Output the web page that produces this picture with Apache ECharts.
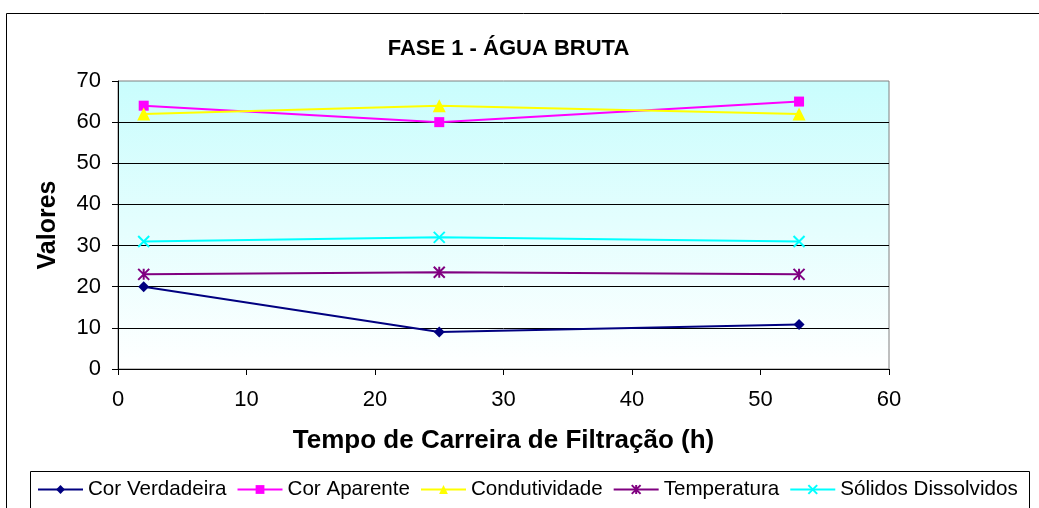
<!DOCTYPE html>
<html>
<head>
<meta charset="utf-8">
<script src="https://cdn.jsdelivr.net/npm/echarts@6/dist/echarts.min.js"></script>
<style>
  html, body { margin: 0; padding: 0; background: #fff; }
  #chart { width: 1039px; height: 508px; }
</style>
</head>
<body>
<div id="chart"></div>
<script>
// dados
var tempo = [2, 25, 53];
var corVerdadeira = [20, 9, 10.8];
var corAparente = [64, 60, 65];
var condutividade = [62, 64, 62];
var temperatura = [23, 23.5, 23];
var solidos = [31, 32, 31];
var nomes = ['Cor Verdadeira', 'Cor Aparente', 'Condutividade', 'Temperatura', 'Sólidos Dissolvidos'];

var FONT = 'Arial, "Liberation Sans", sans-serif';

function pares(valores) {
    return tempo.map(function (t, i) { return [t, valores[i]]; });
}

function serie(nome, valores, cor, simbolo, tamanho, traco) {
    return {
        name: nome,
        type: 'line',
        data: pares(valores),
        symbol: simbolo,
        symbolSize: tamanho,
        showAllSymbol: true,
        lineStyle: { color: cor, width: 2 },
        itemStyle: traco ? { color: cor, borderColor: cor, borderWidth: 2 } : { color: cor, borderWidth: 0 },
        emphasis: { disabled: true },
        animation: false,
        z: 3
    };
}

var chart = echarts.init(document.getElementById('chart'));
chart.setOption({
    animation: false,
    title: {
        text: 'FASE 1 - ÁGUA BRUTA',
        left: 503.5,
        textAlign: 'center',
        top: 33,
        textStyle: { fontFamily: FONT, fontSize: 22, fontWeight: 'bold', color: '#000' }
    },
    graphic: [
        {
            type: 'rect',
            shape: { x: 6.5, y: 13.5, width: 1040, height: 520 },
            style: { fill: 'none', stroke: '#000', lineWidth: 1 },
            silent: true, z: -10
        },
        {
            type: 'rect',
            shape: { x: 30.5, y: 471.5, width: 999, height: 60 },
            style: { fill: '#fff', stroke: '#000', lineWidth: 1 },
            silent: true, z: -5
        }
    ],
    legend: {
        data: nomes,
        left: 37,
        top: 479,
        itemWidth: 45,
        itemHeight: 11,
        itemGap: 10,
        padding: 0,
        textStyle: { fontFamily: FONT, fontSize: 20.6, color: '#000' }
    },
    grid: {
        left: 118,
        top: 81,
        width: 771,
        height: 288,
        show: true,
        borderColor: '#808080',
        borderWidth: 1,
        backgroundColor: {
            type: 'linear', x: 0, y: 0, x2: 0, y2: 1,
            colorStops: [{ offset: 0, color: '#c9fdfd' }, { offset: 1, color: '#ffffff' }]
        }
    },
    xAxis: {
        type: 'value',
        min: 0,
        max: 60,
        interval: 10,
        name: 'Tempo de Carreira de Filtração (h)',
        nameLocation: 'middle',
        nameGap: 59,
        nameTextStyle: { fontFamily: FONT, fontSize: 26, fontWeight: 'bold', color: '#000' },
        axisLine: { show: true, lineStyle: { color: '#000', width: 1 } },
        axisTick: { show: true, length: 6, lineStyle: { color: '#000' } },
        axisLabel: { margin: 20, fontFamily: FONT, fontSize: 22, color: '#000' },
        splitLine: { show: false }
    },
    yAxis: {
        type: 'value',
        min: 0,
        max: 70,
        interval: 10,
        name: 'Valores',
        nameLocation: 'middle',
        nameGap: 57,
        nameTextStyle: { fontFamily: FONT, fontSize: 25, fontWeight: 'bold', color: '#000' },
        axisLine: { show: true, lineStyle: { color: '#000', width: 1 } },
        axisTick: { show: true, length: 6, lineStyle: { color: '#000' } },
        axisLabel: { margin: 17, fontFamily: FONT, fontSize: 22, color: '#000' },
        splitLine: { show: true, showMinLine: false, showMaxLine: false, lineStyle: { color: '#000', width: 1 } }
    },
    series: [
        serie(nomes[0], corVerdadeira, '#000080', 'diamond', 11, false),
        serie(nomes[1], corAparente, '#ff00ff', 'rect', 10, false),
        serie(nomes[2], condutividade, '#ffff00', 'triangle', 13, false),
        serie(nomes[3], temperatura, '#800080', 'path://M0,0L10,10M10,0L0,10M5,0L5,10', 11, true),
        serie(nomes[4], solidos, '#00ffff', 'path://M0,0L10,10M10,0L0,10', 11, true)
    ]
});
</script>
</body>
</html>
